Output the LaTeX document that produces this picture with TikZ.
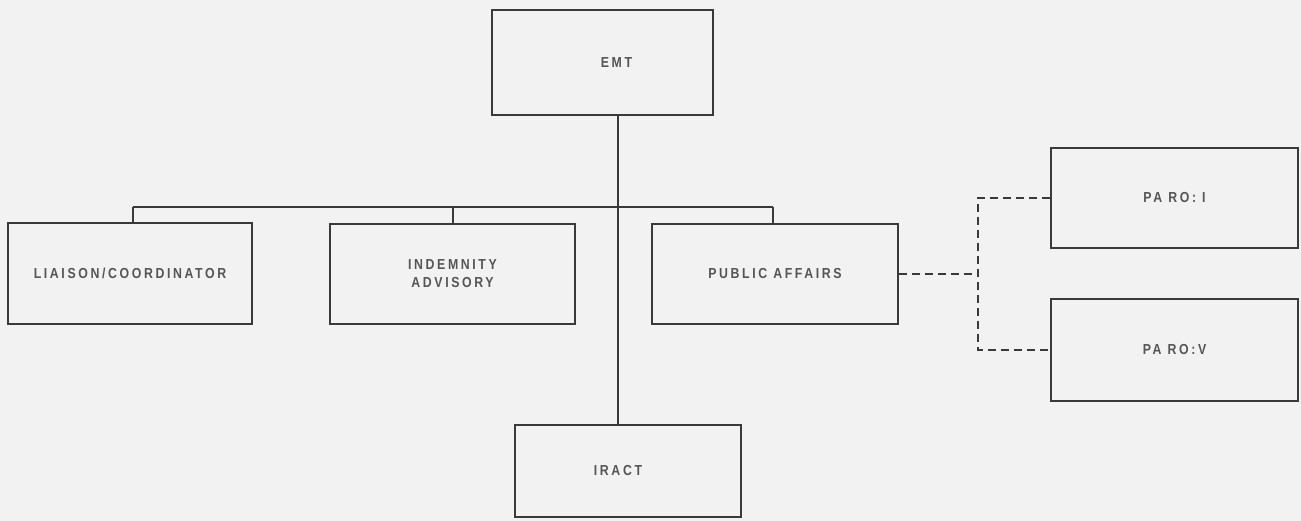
\documentclass[tikz,border=0pt]{standalone}
\usepackage{fontspec}
\setmainfont{Liberation Sans}[FakeStretch=0.85,LetterSpace=18]
\begin{document}
\begin{tikzpicture}[x=1pt,y=-1pt,
  orgbox/.style={draw=linec, line width=1.8pt, fill=bgc, inner sep=0pt,
    font=\fontsize{14.5}{18}\selectfont\bfseries, text=textc, align=center},
  solidlink/.style={draw=linec, line width=1.8pt},
  dashlink/.style={draw=linec, line width=1.8pt, dash pattern=on 8pt off 5pt}]
\definecolor{bgc}{HTML}{F2F2F2}
\definecolor{linec}{HTML}{3A3A3A}
\definecolor{textc}{HTML}{555555}
\fill[bgc] (0,0) rectangle (1301,521);
\useasboundingbox (0,0) rectangle (1301,521);

\node[orgbox, minimum width=221pt, minimum height=105pt] (emt) at (602.5,62.5) {\hspace*{28pt}EMT};
\node[orgbox, minimum width=244pt, minimum height=101pt] (liaison) at (130,273.5) {LIAISON/COORDINATOR};
\node[orgbox, minimum width=245pt, minimum height=100pt] (indem) at (452.5,274) {INDEMNITY\\ADVISORY};
\node[orgbox, minimum width=246pt, minimum height=100pt] (pa) at (775,274) {PUBLIC AFFAIRS};
\node[orgbox, minimum width=226pt, minimum height=92pt] (iract) at (628,471) {IRACT\hspace*{20pt}};
\node[orgbox, minimum width=247pt, minimum height=100pt] (paroi) at (1174.5,198) {PA RO: I};
\node[orgbox, minimum width=247pt, minimum height=102pt] (parov) at (1174.5,350) {PA RO:V};

\coordinate (trunk) at (618,207);
\coordinate (b1) at (133,207);
\coordinate (b2) at (453,207);
\coordinate (b3) at (773,207);
\coordinate (dj) at (978,277);

\draw[solidlink] (emt.south -| trunk) -- (iract.north -| trunk);
\draw[solidlink] (b1) -- (b3);
\draw[solidlink] (b1) -- (b1 |- liaison.north);
\draw[solidlink] (b2) -- (b2 |- indem.north);
\draw[solidlink] (b3) -- (b3 |- pa.north);

\draw[dashlink] (pa.east) -- (pa.east -| dj);
\draw[dashlink] (paroi.west) -- (paroi.west -| dj) -- (parov.west -| dj) -- (parov.west);
\end{tikzpicture}
\end{document}
